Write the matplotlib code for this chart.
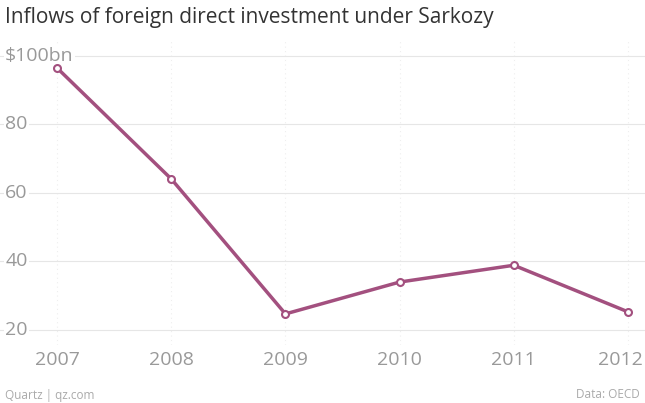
import matplotlib
matplotlib.use("Agg")
import matplotlib.pyplot as plt

years = [2007, 2008, 2009, 2010, 2011, 2012]
inflows = [96.5, 64.1, 24.7, 34.0, 38.9, 25.3]
y_ticks = [20, 40, 60, 80, 100]
y_labels = ["20", "40", "60", "80", "$100bn"]

W, H = 645, 403
fig = plt.figure(figsize=(W / 100, H / 100), dpi=100)
ax = fig.add_axes([0, 58 / H, 1, (345 - 40) / H])
ax.set_xlim(2006.5, 2012.149)
ax.set_ylim(15.62, 104.67)
ax.axis("off")

# horizontal grid with labels sitting on the left
for t, lab in zip(y_ticks, y_labels):
    ax.axhline(t, color="#e6e6e6", lw=0.8, zorder=1)
    ax.text(2006.545, t, lab, color="#999999", fontsize=14,
            va="center", ha="left", family="Open Sans",
            bbox=dict(facecolor="white", edgecolor="none", pad=1))
for yr in years:
    ax.plot([yr, yr], [15.62, 104.67], color="#eeeeee", lw=0.8,
            ls=(0, (1, 3)), zorder=0)

ax.plot(years, inflows, color="#a3507f", lw=2.5, marker="o", ms=5,
        mfc="white", mec="#a3507f", mew=1.5, zorder=3)

# year labels under the plot
for yr in years:
    x = ax.transData.transform((yr, 0))[0] / W
    if yr == years[-1]:
        fig.text(1 - 2 / W, 1 - 360 / H, str(yr), color="#999999", fontsize=14,
                 ha="right", va="center", family="Open Sans")
    else:
        fig.text(x, 1 - 360 / H, str(yr), color="#999999", fontsize=14,
                 ha="center", va="center", family="Open Sans")

fig.text(5 / W, 1 - 18 / H, "Inflows of foreign direct investment under Sarkozy",
         fontsize=15, color="#333333", va="center", ha="left", family="Open Sans")
fig.text(5 / W, 1 - 395 / H, "Quartz | qz.com", fontsize=8.5, color="#aaaaaa",
         va="center", ha="left", family="Open Sans")
fig.text(1 - 5 / W, 1 - 395 / H, "Data: OECD", fontsize=8.5, color="#aaaaaa",
         va="center", ha="right", family="Open Sans")

fig.savefig("out.png", dpi=100)
